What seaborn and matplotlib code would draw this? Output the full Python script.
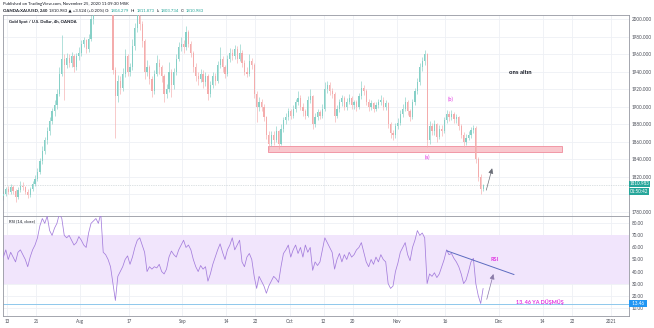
import numpy as np
import pandas as pd
import seaborn as sns
import matplotlib
matplotlib.use("Agg")
import matplotlib.pyplot as plt
from matplotlib.patches import Rectangle

# ---------------- data (12h candles, OANDA:XAUUSD) ----------------
first_open = 1798
close = [1800, 1806, 1803, 1808, 1804, 1797, 1805, 1810, 1808, 1803,
         1799, 1806, 1812, 1818, 1826, 1838, 1850, 1862, 1872, 1884,
         1895, 1902, 1915, 1938, 1955, 1948, 1956, 1950, 1958, 1945,
         1958, 1962, 1972, 1976, 1966, 1978, 2000, 2015, 2030, 2040,
         2045, 2060, 2050, 2030, 2025, 1942, 1912, 1930, 1922, 1938,
         1958, 1940, 1945, 1970, 1990, 2005, 1995, 1975, 1940, 1945,
         1932, 1918, 1938, 1950, 1945, 1935, 1915, 1920, 1940, 1925,
         1940, 1955, 1968, 1972, 1968, 1985, 1972, 1962, 1945, 1935,
         1932, 1938, 1928, 1935, 1915, 1925, 1935, 1930, 1948, 1955,
         1945, 1938, 1955, 1962, 1958, 1966, 1955, 1962, 1950, 1940,
         1938, 1952, 1948, 1915, 1900, 1905, 1900, 1888, 1868, 1858,
         1868, 1862, 1872, 1858, 1875, 1885, 1888, 1895, 1890, 1898,
         1905, 1910, 1900, 1895, 1890, 1908, 1912, 1880, 1888, 1894,
         1890, 1898, 1920, 1925, 1918, 1915, 1890, 1898, 1905, 1910,
         1900, 1906, 1910, 1902, 1905, 1900, 1912, 1922, 1918, 1906,
         1900, 1904, 1898, 1902, 1905, 1908, 1900, 1904, 1880, 1870,
         1868, 1878, 1882, 1892, 1898, 1906, 1895, 1888, 1905, 1918,
         1928, 1945, 1952, 1960, 1862, 1878, 1872, 1880, 1866, 1875,
         1872, 1885, 1892, 1888, 1892, 1886, 1888, 1878, 1868, 1860,
         1865, 1868, 1874, 1876, 1840, 1820, 1806, 1810.983]
high = [1804, 1809, 1810, 1812, 1811, 1806, 1808, 1815, 1814, 1810,
        1806, 1809, 1815, 1822, 1830, 1842, 1855, 1866, 1877, 1889,
        1899, 1908, 1920, 1945, 1982, 1960, 1962, 1960, 1963, 1960,
        1962, 1968, 1976, 1980, 1978, 1983, 2006, 2020, 2035, 2048,
        2055, 2075, 2065, 2055, 2040, 2030, 1946, 1936, 1935, 1944,
        1966, 1960, 1950, 1978, 1996, 2015, 2012, 1998, 1978, 1954,
        1948, 1935, 1942, 1959, 1955, 1948, 1938, 1926, 1951, 1943,
        1944, 1960, 1974, 1980, 1976, 1992, 1988, 1975, 1964, 1950,
        1940, 1943, 1942, 1940, 1938, 1930, 1940, 1939, 1952, 1968,
        1958, 1948, 1959, 1967, 1966, 1971, 1969, 1972, 1965, 1953,
        1945, 1960, 1956, 1950, 1918, 1911, 1909, 1903, 1890, 1872,
        1873, 1872, 1878, 1874, 1880, 1889, 1893, 1899, 1898, 1902,
        1909, 1918, 1913, 1904, 1898, 1912, 1920, 1914, 1893, 1898,
        1897, 1903, 1928, 1930, 1928, 1922, 1917, 1902, 1909, 1914,
        1912, 1910, 1915, 1912, 1908, 1908, 1916, 1929, 1925, 1920,
        1909, 1908, 1906, 1906, 1909, 1914, 1911, 1908, 1906, 1883,
        1874, 1882, 1887, 1896, 1903, 1911, 1908, 1898, 1909, 1922,
        1933, 1950, 1957, 1965, 1962, 1884, 1882, 1885, 1882, 1879,
        1879, 1889, 1897, 1895, 1896, 1894, 1892, 1890, 1880, 1871,
        1869, 1872, 1877, 1879, 1878, 1843, 1823, 1811.873]
low = [1794, 1798, 1800, 1801, 1800, 1791, 1795, 1803, 1805, 1800,
       1796, 1797, 1804, 1810, 1815, 1823, 1835, 1846, 1858, 1868,
       1880, 1890, 1898, 1912, 1935, 1908, 1944, 1945, 1946, 1940,
       1942, 1954, 1958, 1968, 1961, 1963, 1975, 1995, 2010, 2025,
       2035, 2040, 2040, 2020, 2015, 1938, 1864, 1905, 1915, 1918,
       1934, 1935, 1935, 1942, 1965, 1985, 1988, 1968, 1932, 1935,
       1926, 1911, 1915, 1935, 1938, 1928, 1905, 1910, 1917, 1911,
       1920, 1936, 1952, 1964, 1962, 1965, 1968, 1957, 1940, 1930,
       1925, 1928, 1922, 1924, 1908, 1911, 1922, 1925, 1927, 1944,
       1940, 1933, 1935, 1951, 1953, 1955, 1950, 1952, 1946, 1936,
       1934, 1935, 1943, 1910, 1883, 1895, 1895, 1884, 1863, 1851,
       1855, 1857, 1860, 1852, 1856, 1871, 1881, 1885, 1886, 1887,
       1894, 1902, 1896, 1890, 1886, 1888, 1904, 1875, 1877, 1885,
       1886, 1887, 1895, 1916, 1913, 1910, 1883, 1887, 1894, 1901,
       1896, 1897, 1903, 1898, 1898, 1895, 1898, 1909, 1913, 1902,
       1895, 1896, 1894, 1895, 1899, 1902, 1896, 1897, 1876, 1865,
       1862, 1865, 1875, 1879, 1889, 1895, 1891, 1884, 1886, 1902,
       1915, 1925, 1941, 1948, 1854, 1858, 1868, 1868, 1860, 1863,
       1867, 1870, 1882, 1884, 1885, 1882, 1882, 1874, 1864, 1854,
       1857, 1862, 1865, 1870, 1836, 1815, 1800, 1803.734]
rsi = [52, 58, 50, 56, 52, 48, 56, 58, 54, 50,
       44, 52, 58, 62, 68, 78, 84, 80, 86, 74,
       70, 76, 80, 88, 84, 70, 68, 70, 66, 62,
       64, 69, 66, 62, 60, 72, 80, 82, 84, 80,
       88, 56, 54, 50, 44, 30, 16, 36, 40, 44,
       50, 53, 46, 52, 60, 66, 68, 62, 56, 40,
       44, 42, 44, 43, 46, 40, 38, 42, 52, 57,
       54, 52, 58, 62, 66, 60, 62, 58, 50, 44,
       40, 45, 42, 44, 32, 38, 46, 52, 58, 63,
       56, 50, 58, 62, 68, 58, 62, 66, 48, 44,
       52, 55, 50, 36, 26, 36, 32, 28, 22, 28,
       32, 36, 34, 31, 44, 55, 58, 62, 52, 58,
       62, 55, 60, 52, 62, 56, 60, 41, 48, 45,
       48, 58, 68, 64, 60, 56, 42, 50, 55, 48,
       54, 50, 56, 52, 54, 58, 60, 64, 56, 48,
       44, 50, 46, 52, 48, 54, 50, 48, 30, 26,
       28, 40, 47, 56, 60, 64, 54, 49, 60, 66,
       74, 70, 72, 68, 30, 38, 36, 39, 35, 38,
       44, 50, 58, 54, 55, 51, 48, 44, 38, 30,
       33, 40, 48, 51, 30, 20, 13.46, 26]

tick_dates = ["2020-07-13", "2020-07-21", "2020-08-03", "2020-08-17", "2020-09-01",
              "2020-09-14", "2020-09-22", "2020-10-01", "2020-10-12", "2020-10-20",
              "2020-11-02", "2020-11-16", "2020-12-01", "2020-12-14", "2020-12-22",
              "2021-01-01"]
tick_labels = ["13", "21", "Aug", "17", "Sep", "14", "22", "Oct", "12", "20",
               "Nov", "16", "Dec", "14", "22", "2021"]
price_ticks = [1780, 1800, 1820, 1840, 1860, 1880, 1900, 1920, 1940, 1960, 1980, 2000]
rsi_ticks = [10, 20, 30, 40, 50, 60, 70, 80]
zone_low, zone_high = 1848, 1855
rsi_level = 13.46
last_price = 1810.983

# ---------------- style ----------------
sns.set_theme(style="white")
FONT = ["Lato", "DejaVu Sans"]
plt.rcParams["font.family"] = FONT
UP, DN = "#86d0c7", "#f4acac"
GRID = "#eef0f5"
SPINE = "#9598a1"
TXT = "#4a4d57"
MAG = "#e02ee0"

W, H = 654, 328
fig = plt.figure(figsize=(W / 100, H / 100), dpi=100)
ax1 = fig.add_axes([3 / W, 1 - 216 / H, 626 / W, 201 / H])
ax2 = fig.add_axes([3 / W, 1 - 316 / H, 626 / W, 100 / H], sharex=ax1)

n = len(close)
df = pd.DataFrame({"x": np.arange(n), "close": close, "high": high, "low": low})
df["open"] = [first_open] + close[:-1]
df["up"] = df["close"] >= df["open"]
cols = np.where(df["up"], UP, DN)

# tick positions: candle index of each date's start (2 candles per trading day)
day0 = np.datetime64("2020-07-13")
tick_pos = [1.5 + 2 * np.busday_count(day0, np.datetime64(d)) for d in tick_dates]

# ---------------- price panel ----------------
for t in price_ticks:
    ax1.axhline(t, color=GRID, lw=0.6, zorder=0)
for p in tick_pos:
    ax1.axvline(p, color=GRID, lw=0.6, zorder=0)

ax1.add_patch(Rectangle((108.7, zone_low), 229.4 - 108.7, zone_high - zone_low,
                        facecolor="#f9c8ce", edgecolor="#f08c9c", lw=0.6, zorder=1))
ax1.vlines(df["x"], df["low"], df["high"], colors=cols, lw=0.45, zorder=2)
body_lo = np.minimum(df["open"], df["close"])
body_h = np.maximum((df["close"] - df["open"]).abs(), 0.8)
ax1.bar(df["x"], body_h, bottom=body_lo, width=0.5, color=cols, lw=0, zorder=3)

ax1.axhline(last_price, color="#b9c4c8", lw=0.5, ls=(0, (1, 1.5)), zorder=1)

ax1.set_ylim(1775.4, 2004.9)
ax1.set_xlim(-0.15, 256.9)
ax1.yaxis.tick_right()
ax1.set_yticks(price_ticks)
ax1.set_yticklabels(["" if v == 1800 else f"{v:.3f}" for v in price_ticks])
ax1.tick_params(axis="y", length=0, pad=2.2, labelsize=3.3, labelcolor=TXT)
ax1.tick_params(axis="x", length=0, labelbottom=False)

ax1.text(174, 1842.8, "(a)", color=MAG, fontsize=4, ha="center", va="center")
ax1.text(183.7, 1909, "(b)", color=MAG, fontsize=4, ha="center", va="center")
ax1.text(212.2, 1939.8, "ons altın", color="#131722", fontsize=4.3,
         fontweight="bold", ha="center", va="center")
ax1.annotate("", xy=(201, 1833), xytext=(198, 1801.8),
             arrowprops=dict(arrowstyle="-|>,head_length=0.25,head_width=0.12",
                             color="#6b6e78", lw=0.5))
ax1.text(6 / 626, 1 - 7 / 201, "Gold Spot / U.S. Dollar, 4h, OANDA",
         transform=ax1.transAxes, fontsize=3.1, fontweight="bold",
         color="#131722", ha="left", va="center")

# ---------------- RSI panel ----------------
for t in rsi_ticks:
    ax2.axhline(t, color=GRID, lw=0.6, zorder=0)
for p in tick_pos:
    ax2.axvline(p, color=GRID, lw=0.6, zorder=0)
ax2.axhspan(30, 70, color="#f1e5fc", zorder=0.5, lw=0)
ax2.axhline(rsi_level, color="#8ec8ec", lw=0.7, zorder=1)

rdf = pd.DataFrame({"x": np.arange(n), "rsi": rsi})
sns.lineplot(data=rdf, x="x", y="rsi", ax=ax2, color="#a47ddc", lw=0.55, zorder=3)

ax2.plot([182.1, 209.7], [57.2, 37.5], color="#5c6bc0", lw=0.7, zorder=4)
ax2.annotate("", xy=(201.5, 40.2), xytext=(198.2, 14.7),
             arrowprops=dict(arrowstyle="-|>,head_length=0.25,head_width=0.12",
                             color="#8a7aa8", lw=0.5))
ax2.text(201.5, 50.3, "RSI", color=MAG, fontsize=4, fontweight="bold",
         ha="center", va="center")
ax2.text(220.4, 14.9, "13. 46 YA DÜŞMÜŞ", color=MAG, fontsize=3.9,
         fontweight="bold", ha="center", va="center")
ax2.text(6 / 626, 1 - 5 / 100, "RSI (14, close)", transform=ax2.transAxes,
         fontsize=3.1, color="#131722", ha="left", va="center")

ax2.set_ylim(3.1, 86.1)
ax2.set_xlabel("")
ax2.set_ylabel("")
ax2.yaxis.tick_right()
ax2.set_yticks(rsi_ticks)
ax2.set_yticklabels([f"{v:.2f}" for v in rsi_ticks])
ax2.tick_params(axis="y", length=0, pad=2.2, labelsize=3.3, labelcolor=TXT)
ax2.set_xticks(tick_pos)
ax2.set_xticklabels(tick_labels)
ax2.tick_params(axis="x", length=0, pad=2.3, labelsize=3.3, labelcolor=TXT)

for ax in (ax1, ax2):
    for s in ax.spines.values():
        s.set_color(SPINE)
        s.set_linewidth(0.6)

# right-axis value boxes
def box(y_data, ax, txt, fc):
    ax.text(1.001, y_data, txt, transform=ax.get_yaxis_transform(), fontsize=3.3,
            color="white", ha="left", va="center", zorder=10, clip_on=False,
            bbox=dict(boxstyle="square,pad=0.2", fc=fc, ec="none"))

box(last_price + 1.0, ax1, "1810.983", "#26a69a")
box(last_price - 7.8, ax1, "01:50:42", "#26a69a")
box(rsi_level, ax2, "  13.46  ", "#2196f3")

# ---------------- header ----------------
renderer = fig.canvas.get_renderer()
fig.text(3 / W, 1 - 4 / H, "Published on TradingView.com, November 25, 2020 11:09:30 MSK",
         fontsize=3.1, color="#131722", ha="left", va="center")

pieces = [("OANDA:XAUUSD, 240", "#131722", "bold"),
          ("1810.983 ▲ +3.524 (+0.20%)", "#131722", "normal"),
          ("O:", "#131722", "normal"), ("1804.279", "#26a69a", "normal"),
          ("H:", "#131722", "normal"), ("1811.873", "#26a69a", "normal"),
          ("L:", "#131722", "normal"), ("1803.734", "#26a69a", "normal"),
          ("C:", "#131722", "normal"), ("1810.983", "#26a69a", "normal")]
xp = 3.0
for txt, col, wt in pieces:
    t = fig.text(xp / W, 1 - 10.5 / H, txt, fontsize=3.1, color=col, fontweight=wt,
                 ha="left", va="center", family=FONT)
    xp += t.get_window_extent(renderer).width + 1.4

fig.savefig("out.png", dpi=100)
